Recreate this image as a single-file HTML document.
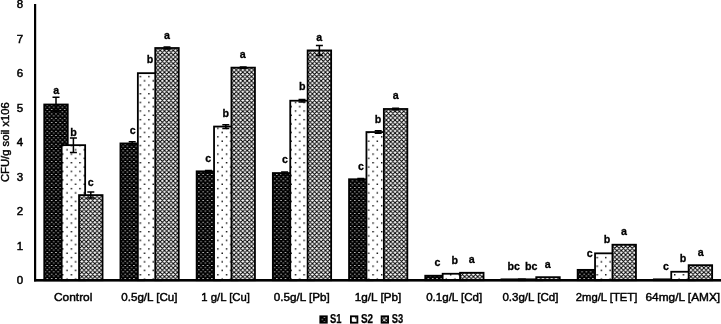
<!DOCTYPE html>
<html lang="en">
<head>
<meta charset="utf-8">
<title>CFU/g soil chart</title>
<style>
html,body{margin:0;padding:0;background:#fff;}
body{width:721px;height:324px;overflow:hidden;}
svg{display:block;}
text{font-family:"Liberation Sans",sans-serif;fill:#000;}
.lt{font-size:11.5px;font-weight:bold;text-anchor:middle;stroke:#000;stroke-width:.3px;}
.yt{font-size:11.5px;text-anchor:middle;stroke:#000;stroke-width:.5px;}
.xl{font-size:11.5px;text-anchor:middle;stroke:#000;stroke-width:.45px;}
.ti{font-size:10.7px;text-anchor:middle;stroke:#000;stroke-width:.4px;}
.lg{font-size:12px;font-weight:bold;stroke:#000;stroke-width:.25px;}
.bar{stroke:#000;stroke-width:1.8px;}
.eb{stroke:#000;stroke-width:1.5px;fill:none;}
</style>
</head>
<body>
<svg width="721" height="324" viewBox="0 0 721 324">
<defs>
<pattern id="p1" patternUnits="userSpaceOnUse" x="46.5" y="200.1" width="4.33" height="4.33">
<rect width="4.33" height="4.33" fill="#000"/>
<rect x="0" y="0" width="1.6" height="0.66" fill="#fff"/>
<rect x="2.165" y="2.165" width="1.6" height="0.66" fill="#fff"/>
</pattern>
<pattern id="p2" patternUnits="userSpaceOnUse" x="70.65" y="170.65" width="8.62" height="8.62">
<rect width="8.62" height="8.62" fill="#fff"/>
<rect x="0" y="0" width="1.4" height="1.4" fill="#000"/>
<rect x="4.31" y="4.31" width="1.4" height="1.4" fill="#000"/>
</pattern>
<pattern id="p3" patternUnits="userSpaceOnUse" x="155.8" y="63.5" width="4.35" height="4.35">
<rect width="4.35" height="4.35" fill="#fff"/>
<path d="M-1 -1L5.35 5.35M-1 5.35L5.35 -1M-1 3.35L1 5.35M3.35 -1L5.35 1M-1 1L1 -1M3.35 5.35L5.35 3.35" stroke="#000" stroke-width="1.0" fill="none"/>
</pattern>
</defs>
<rect width="721" height="324" fill="#fff"/>

<rect class="bar" x="44.25" y="104.50" width="23.50" height="175.69" fill="url(#p1)"/>
<path class="eb" d="M56.00 97.25V111.75M52.50 97.25h7M52.50 111.75h7"/>
<rect class="bar" x="61.65" y="145.16" width="23.50" height="135.04" fill="url(#p2)"/>
<path class="eb" d="M73.40 137.91V152.41M69.90 137.91h7M69.90 152.41h7"/>
<rect class="bar" x="79.05" y="195.11" width="23.50" height="85.09" fill="url(#p3)"/>
<path class="eb" d="M90.80 192.11V198.11M87.30 192.11h7M87.30 198.11h7"/>
<rect class="bar" x="120.45" y="143.43" width="23.50" height="136.77" fill="url(#p1)"/>
<path class="eb" d="M132.20 141.83V145.03M128.70 141.83h7M128.70 145.03h7"/>
<rect class="bar" x="137.85" y="73.16" width="23.50" height="207.04" fill="url(#p2)"/>
<rect class="bar" x="155.25" y="48.01" width="23.50" height="232.19" fill="url(#p3)"/>
<path class="eb" d="M167.00 46.91V49.11M163.50 46.91h7M163.50 49.11h7"/>
<rect class="bar" x="196.65" y="171.34" width="23.50" height="108.86" fill="url(#p1)"/>
<path class="eb" d="M208.40 170.54V172.14M204.90 170.54h7M204.90 172.14h7"/>
<rect class="bar" x="214.05" y="126.55" width="23.50" height="153.65" fill="url(#p2)"/>
<path class="eb" d="M225.80 124.65V128.45M222.30 124.65h7M222.30 128.45h7"/>
<rect class="bar" x="231.45" y="67.64" width="23.50" height="212.56" fill="url(#p3)"/>
<path class="eb" d="M243.20 66.94V68.34M239.70 66.94h7M239.70 68.34h7"/>
<rect class="bar" x="272.85" y="173.06" width="23.50" height="107.14" fill="url(#p1)"/>
<path class="eb" d="M284.60 172.06V174.06M281.10 172.06h7M281.10 174.06h7"/>
<rect class="bar" x="290.25" y="100.72" width="23.50" height="179.48" fill="url(#p2)"/>
<path class="eb" d="M302.00 99.42V102.02M298.50 99.42h7M298.50 102.02h7"/>
<rect class="bar" x="307.65" y="50.42" width="23.50" height="229.78" fill="url(#p3)"/>
<path class="eb" d="M319.40 45.42V55.42M315.90 45.42h7M315.90 55.42h7"/>
<rect class="bar" x="349.05" y="179.26" width="23.50" height="100.94" fill="url(#p1)"/>
<path class="eb" d="M360.80 178.56V179.96M357.30 178.56h7M357.30 179.96h7"/>
<rect class="bar" x="366.45" y="132.06" width="23.50" height="148.14" fill="url(#p2)"/>
<path class="eb" d="M378.20 130.76V133.36M374.70 130.76h7M374.70 133.36h7"/>
<rect class="bar" x="383.85" y="108.98" width="23.50" height="171.22" fill="url(#p3)"/>
<path class="eb" d="M395.60 108.28V109.68M392.10 108.28h7M392.10 109.68h7"/>
<rect class="bar" x="425.25" y="275.72" width="23.50" height="4.48" fill="url(#p1)"/>
<rect class="bar" x="442.65" y="273.76" width="23.50" height="6.44" fill="url(#p2)"/>
<rect class="bar" x="460.05" y="272.76" width="23.50" height="7.44" fill="url(#p3)"/>
<rect class="bar" x="501.45" y="279.34" width="23.50" height="0.86" fill="url(#p1)"/>
<rect class="bar" x="518.85" y="279.34" width="23.50" height="0.86" fill="url(#p2)"/>
<rect class="bar" x="536.25" y="277.17" width="23.50" height="3.03" fill="url(#p3)"/>
<rect class="bar" x="577.65" y="269.87" width="23.50" height="10.33" fill="url(#p1)"/>
<rect class="bar" x="595.05" y="253.33" width="23.50" height="26.87" fill="url(#p2)"/>
<rect class="bar" x="612.45" y="244.72" width="23.50" height="35.48" fill="url(#p3)"/>
<rect class="bar" x="653.85" y="279.34" width="23.50" height="0.86" fill="url(#p1)"/>
<rect class="bar" x="671.25" y="271.76" width="23.50" height="8.44" fill="url(#p2)"/>
<rect class="bar" x="688.65" y="265.18" width="23.50" height="15.02" fill="url(#p3)"/>
<rect x="34" y="4" width="2.2" height="277.3" fill="#000"/>
<rect x="34" y="279" width="687" height="2.6" fill="#000"/>
<text class="yt" x="20" y="284.00">0</text>
<text class="yt" x="20" y="249.50">1</text>
<text class="yt" x="20" y="215.00">2</text>
<text class="yt" x="20" y="180.50">3</text>
<text class="yt" x="20" y="146.00">4</text>
<text class="yt" x="20" y="111.50">5</text>
<text class="yt" x="20" y="77.00">6</text>
<text class="yt" x="20" y="42.50">7</text>
<text class="yt" x="20" y="8.00">8</text>
<text class="ti" transform="translate(8.6 142.1) rotate(-90)" textLength="79.8" lengthAdjust="spacingAndGlyphs">CFU/g soil x106</text>
<text class="lt" transform="translate(56.1 93.6) scale(.93 1)">a</text>
<text class="lt" transform="translate(73.5 135.5) scale(.93 1)">b</text>
<text class="lt" transform="translate(90.75 185.7) scale(.93 1)">c</text>
<text class="lt" transform="translate(132.75 133.5) scale(.93 1)">c</text>
<text class="lt" transform="translate(150 63) scale(.93 1)">b</text>
<text class="lt" transform="translate(167 38.5) scale(.93 1)">a</text>
<text class="lt" transform="translate(208.3 162) scale(.93 1)">c</text>
<text class="lt" transform="translate(225.7 117) scale(.93 1)">b</text>
<text class="lt" transform="translate(242.7 57.6) scale(.93 1)">a</text>
<text class="lt" transform="translate(284.9 163) scale(.93 1)">c</text>
<text class="lt" transform="translate(302.3 90) scale(.93 1)">b</text>
<text class="lt" transform="translate(319.3 40.5) scale(.93 1)">a</text>
<text class="lt" transform="translate(361 169.6) scale(.93 1)">c</text>
<text class="lt" transform="translate(378 123) scale(.93 1)">b</text>
<text class="lt" transform="translate(395.7 99.4) scale(.93 1)">a</text>
<text class="lt" transform="translate(437.5 266) scale(.93 1)">c</text>
<text class="lt" transform="translate(454.8 264.4) scale(.93 1)">b</text>
<text class="lt" transform="translate(471.7 263) scale(.93 1)">a</text>
<text class="lt" transform="translate(513.8 270) scale(.93 1)">bc</text>
<text class="lt" transform="translate(531.2 270) scale(.93 1)">bc</text>
<text class="lt" transform="translate(547.8 267.6) scale(.93 1)">a</text>
<text class="lt" transform="translate(589.7 257) scale(.93 1)">c</text>
<text class="lt" transform="translate(607 243) scale(.93 1)">b</text>
<text class="lt" transform="translate(624 235) scale(.93 1)">a</text>
<text class="lt" transform="translate(666 269.6) scale(.93 1)">c</text>
<text class="lt" transform="translate(683 262) scale(.93 1)">b</text>
<text class="lt" transform="translate(700.7 255.6) scale(.93 1)">a</text>
<text class="xl" x="73.20" y="300.6" textLength="38.4" lengthAdjust="spacingAndGlyphs">Control</text>
<text class="xl" x="149.40" y="300.6" textLength="56.2" lengthAdjust="spacingAndGlyphs">0.5g/L [Cu]</text>
<text class="xl" x="225.60" y="300.6" textLength="48.6" lengthAdjust="spacingAndGlyphs">1 g/L [Cu]</text>
<text class="xl" x="301.80" y="300.6" textLength="56.0" lengthAdjust="spacingAndGlyphs">0.5g/L [Pb]</text>
<text class="xl" x="378.00" y="300.6" textLength="46.4" lengthAdjust="spacingAndGlyphs">1g/L [Pb]</text>
<text class="xl" x="454.20" y="300.6" textLength="56.0" lengthAdjust="spacingAndGlyphs">0.1g/L [Cd]</text>
<text class="xl" x="530.40" y="300.6" textLength="56.0" lengthAdjust="spacingAndGlyphs">0.3g/L [Cd]</text>
<text class="xl" x="606.60" y="300.6" textLength="61.5" lengthAdjust="spacingAndGlyphs">2mg/L [TET]</text>
<text class="xl" x="682.80" y="300.6" textLength="74.6" lengthAdjust="spacingAndGlyphs">64mg/L [AMX]</text>
<rect x="320.29999999999995" y="316.3" width="6.5" height="6.4" fill="url(#p1)" stroke="#000" stroke-width="1.8"/>
<text class="lg" x="330.1" y="323.4" textLength="11.5" lengthAdjust="spacingAndGlyphs">S1</text>
<rect x="350.9" y="316.3" width="6.5" height="6.4" fill="url(#p2)" stroke="#000" stroke-width="1.8"/>
<text class="lg" x="361.0" y="323.4" textLength="12.1" lengthAdjust="spacingAndGlyphs">S2</text>
<rect x="381.59999999999997" y="316.3" width="6.5" height="6.4" fill="url(#p3)" stroke="#000" stroke-width="1.8"/>
<text class="lg" x="391.8" y="323.4" textLength="11.4" lengthAdjust="spacingAndGlyphs">S3</text>
</svg>
</body>
</html>
